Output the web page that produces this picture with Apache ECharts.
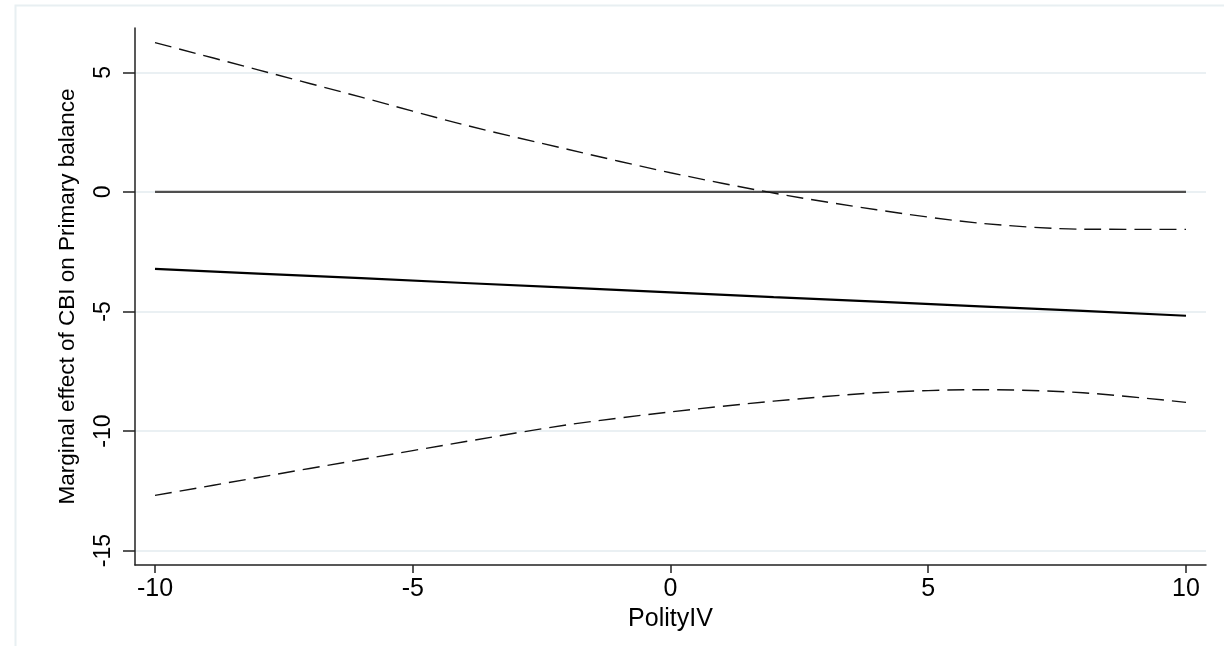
<!DOCTYPE html>
<html><head><meta charset="utf-8">
<script src="https://cdn.jsdelivr.net/npm/echarts@6/dist/echarts.min.js"></script>
<style>html,body{margin:0;padding:0;background:#fff}#c{width:1224px;height:646px}</style>
</head><body><div id="c"></div>
<script>
const polityX = [-10, -8, -6, -4, -2, 0, 2, 4, 6, 8, 10];
const marginalEffect = [-3.22, -3.42, -3.61, -3.81, -4.00, -4.20, -4.40, -4.59, -4.79, -4.98, -5.18];
const upperCI = [6.24, 5.10, 3.96, 2.80, 1.78, 0.80, -0.05, -0.75, -1.31, -1.56, -1.57];
const lowerCI = [-12.69, -11.94, -11.19, -10.45, -9.74, -9.20, -8.75, -8.40, -8.27, -8.40, -8.80];
const zeroRef = [0, 0, 0, 0, 0, 0, 0, 0, 0, 0, 0];
const xTicks = [-10, -5, 0, 5, 10];
const yTicks = [-15, -10, -5, 0, 5];
const xTitle = 'PolityIV';
const yTitle = 'Marginal effect of CBI on Primary balance';

const pairs = (ys) => polityX.map((x, i) => [x, ys[i]]);
const FONT = '"Liberation Sans", Arial, sans-serif';

const chart = echarts.init(document.getElementById('c'), null, {renderer: 'canvas'});
chart.setOption({
  animation: false,
  backgroundColor: '#ffffff',
  graphic: [{
    type: 'rect', silent: true, z: -10,
    shape: {x: 15.5, y: 5.5, width: 1225, height: 700},
    style: {fill: 'none', stroke: '#e8eff2', lineWidth: 2}
  }],
  grid: {left: 135, right: 18, top: 28, bottom: 81, containLabel: false, outerBoundsMode: 'none'},
  xAxis: {
    type: 'value', min: -10.388, max: 10.388,
    name: xTitle, nameLocation: 'middle', nameGap: 32,
    nameTextStyle: {fontFamily: FONT, fontSize: 25, color: '#000'},
    axisLine: {show: true, onZero: false, lineStyle: {color: '#222', width: 1.5}},
    axisTick: {show: true, length: 8, customValues: xTicks, lineStyle: {color: '#222', width: 1.5}},
    axisLabel: {customValues: xTicks, margin: 12, fontFamily: FONT, fontSize: 25, color: '#000'},
    splitLine: {show: false}
  },
  yAxis: {
    type: 'value', min: -15.6, max: 6.85,
    name: yTitle, nameLocation: 'middle', nameGap: 56, nameRotate: 90,
    nameTextStyle: {fontFamily: FONT, fontSize: 22.5, color: '#000'},
    axisLine: {show: true, onZero: false, lineStyle: {color: '#222', width: 1.5}},
    axisTick: {show: true, length: 12, customValues: yTicks, lineStyle: {color: '#222', width: 1.5}},
    axisLabel: {customValues: yTicks, rotate: 90, margin: 20, fontFamily: FONT, fontSize: 23, color: '#000'},
    splitLine: {show: true, lineStyle: {color: '#eaf0f3', width: 2}}
  },
  series: [
    {name: 'zero', type: 'line', data: pairs(zeroRef), symbol: 'none', z: 2,
     lineStyle: {color: '#4f4f4f', width: 2.2}},
    {name: 'upper', type: 'line', data: pairs(upperCI), symbol: 'none', smooth: 0.3, z: 3,
     lineStyle: {color: '#111', width: 1.4, type: [17, 8]}},
    {name: 'lower', type: 'line', data: pairs(lowerCI), symbol: 'none', smooth: 0.3, z: 3,
     lineStyle: {color: '#111', width: 1.4, type: [17, 8]}},
    {name: 'effect', type: 'line', data: pairs(marginalEffect), symbol: 'none', z: 4,
     lineStyle: {color: '#000', width: 2.2}}
  ]
});
</script></body></html>
